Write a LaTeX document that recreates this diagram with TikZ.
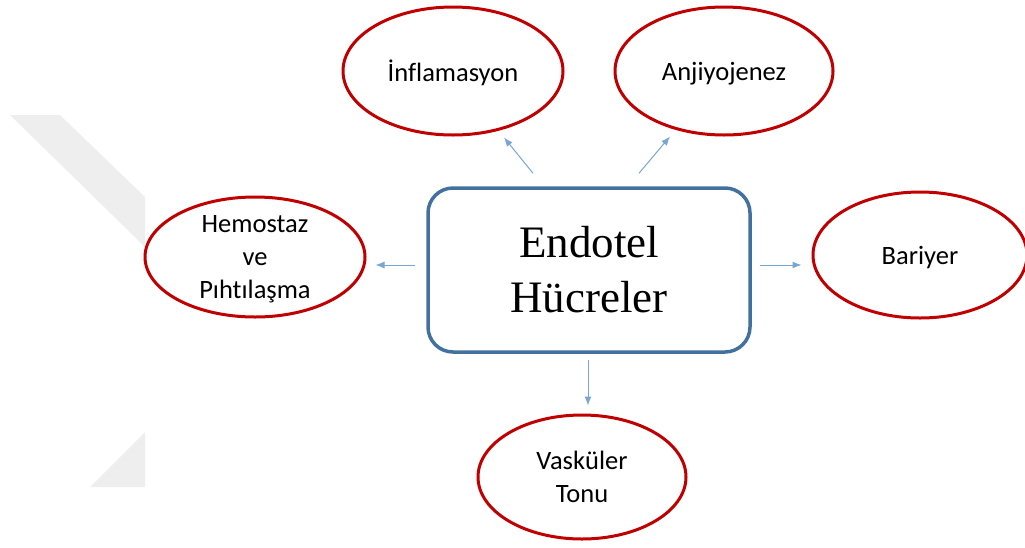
\documentclass[tikz,border=0pt]{standalone}
\usepackage{xcolor}
\usepackage{fontspec}
\setmainfont{Liberation Serif}
\newfontfamily\calib[Ligatures=NoCommon]{Carlito}
\usepackage{tikz}
\usetikzlibrary{arrows.meta}
\usetikzlibrary{shapes.geometric}
\definecolor{boxblue}{RGB}{65,113,156}
\definecolor{ovalred}{RGB}{192,0,0}
\definecolor{linkblue}{RGB}{120,165,210}
\definecolor{wmgray}{RGB}{238,238,238}
\tikzset{
  cellbox/.style={draw=boxblue, line width=3.5pt, rounded corners=25pt, fill=white,
    minimum width=322pt, minimum height=164pt, align=center,
    font=\fontsize{45}{55}\selectfont},
  role/.style={ellipse, draw=ovalred, line width=3pt, inner sep=0pt, align=center,
    text depth=0pt, font=\calib\fontsize{26.5}{33}\selectfont},
  link/.style={draw=linkblue, line width=1pt, -{Latex[length=9pt,width=7pt]}}
}

\begin{document}
\begin{tikzpicture}[x=1pt, y=-1pt]
\useasboundingbox (0,0) rectangle (1025,547);
% watermark
\fill[wmgray] (10,115) -- (60,115) -- (145,197) -- (145,247) -- cycle;
\fill[wmgray] (145,432) -- (145,487) -- (90,487) -- cycle;

\node[cellbox] (box) at (589,270) {Endotel\\Hücreler};

\node[role, minimum width=220pt, minimum height=128pt] (infl) at (453,71) {İnflamasyon};
\node[role, minimum width=218pt, minimum height=128pt] (anjio) at (724,71) {Anjiyojenez};
\node[role, minimum width=220pt, minimum height=120pt] (hemo) at (255,257) {Hemostaz\\ve\\Pıhtılaşma};
\node[role, minimum width=214pt, minimum height=126pt] (bar) at (920,255) {Bariyer};
\node[role, minimum width=208pt, minimum height=124pt] (vask) at (582,477) {Vasküler\\Tonu};

\draw[link] ([shift={(-56,-13)}]box.north) -- ([shift={(51,1)}]infl.south);
\draw[link] ([shift={(50,-13)}]box.north) -- ([shift={(-54,0)}]anjio.south);
\draw[link] ([shift={(-11,-5)}]box.west) -- ([shift={(9,8)}]hemo.east);
\draw[link] ([shift={(8,-5)}]box.east) -- ([shift={(-10,10)}]bar.west);
\draw[link] ([shift={(-1,6)}]box.south) -- ([shift={(6,-8)}]vask.north);
\end{tikzpicture}
\end{document}
